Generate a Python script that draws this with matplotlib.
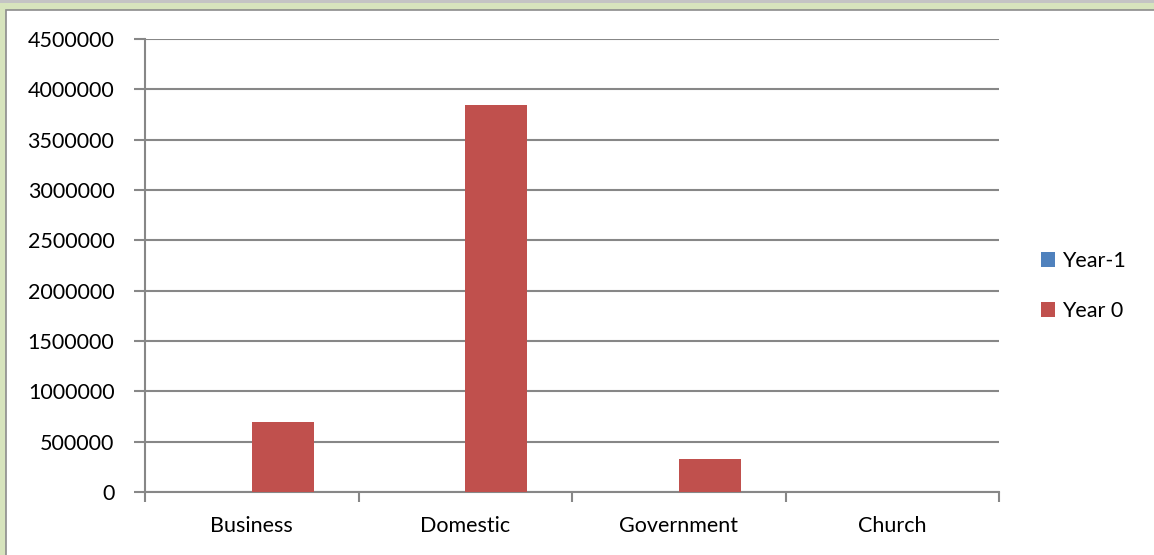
import matplotlib.pyplot as plt
import numpy as np
from matplotlib.patches import Rectangle

categories = ['Business', 'Domestic', 'Government', 'Church']
year_minus_1 = [0, 0, 0, 0]
year_0 = [695000, 3845000, 328000, 0]
yticks = [0, 500000, 1000000, 1500000, 2000000, 2500000, 3000000, 3500000, 4000000, 4500000]

plt.rcParams['font.family'] = ['Lato', 'DejaVu Sans']

W, H = 1154, 555
fig = plt.figure(figsize=(W / 100, H / 100), dpi=100)
fig.patch.set_facecolor('#d7e4bd')

# background frame: gray strip on top, white chart area with gray border
bg = fig.add_axes([0, 0, 1, 1], zorder=-1)
bg.set_xlim(0, W)
bg.set_ylim(H, 0)
bg.axis('off')
bg.add_patch(Rectangle((0, 0), W, 3, facecolor='#c4c4c4', edgecolor='none'))
bg.add_patch(Rectangle((6, 10), W + 20, H + 20, facecolor='white', edgecolor='#8c8c8c', linewidth=1.2))

ax = fig.add_axes([145 / W, 1 - 492 / H, (999 - 145) / W, (492 - 39) / H])
ax.set_facecolor('none')

x = np.arange(len(categories))
w = 0.29
ax.bar(x - w / 2, year_minus_1, w, color='#4f81bd', label='Year-1', zorder=3)
ax.bar(x + w / 2, year_0, w, color='#c0504d', label='Year 0', zorder=3)

ax.set_xlim(-0.5, len(categories) - 0.5)
ax.set_ylim(0, 4500000)
ax.set_yticks(yticks)
ax.set_yticklabels([str(v) for v in yticks], fontsize=15.5)
ax.set_xticks(x)
ax.set_xticklabels(categories, fontsize=15.5)
ax.set_xticks(np.arange(-0.5, len(categories)), minor=True)

ax.grid(axis='y', color='#878787', linewidth=1.5, zorder=0)
for s in ['top', 'right']:
    ax.spines[s].set_visible(False)
for s in ['left', 'bottom']:
    ax.spines[s].set_color('#878787')
    ax.spines[s].set_linewidth(1.5)
ax.tick_params(axis='y', length=8, width=1.5, color='#878787', pad=14)
ax.tick_params(axis='x', which='major', length=0, pad=17)
ax.tick_params(axis='x', which='minor', length=7, width=1.5, color='#878787')

ax.legend(loc='center left', bbox_to_anchor=(1022 / W, 1 - 286 / H), bbox_transform=fig.transFigure,
          frameon=False, fontsize=15.5, handlelength=0.65, handleheight=0.65, handletextpad=0.3,
          labelspacing=1.4)

fig.savefig('out.png', dpi=100, facecolor=fig.get_facecolor())
